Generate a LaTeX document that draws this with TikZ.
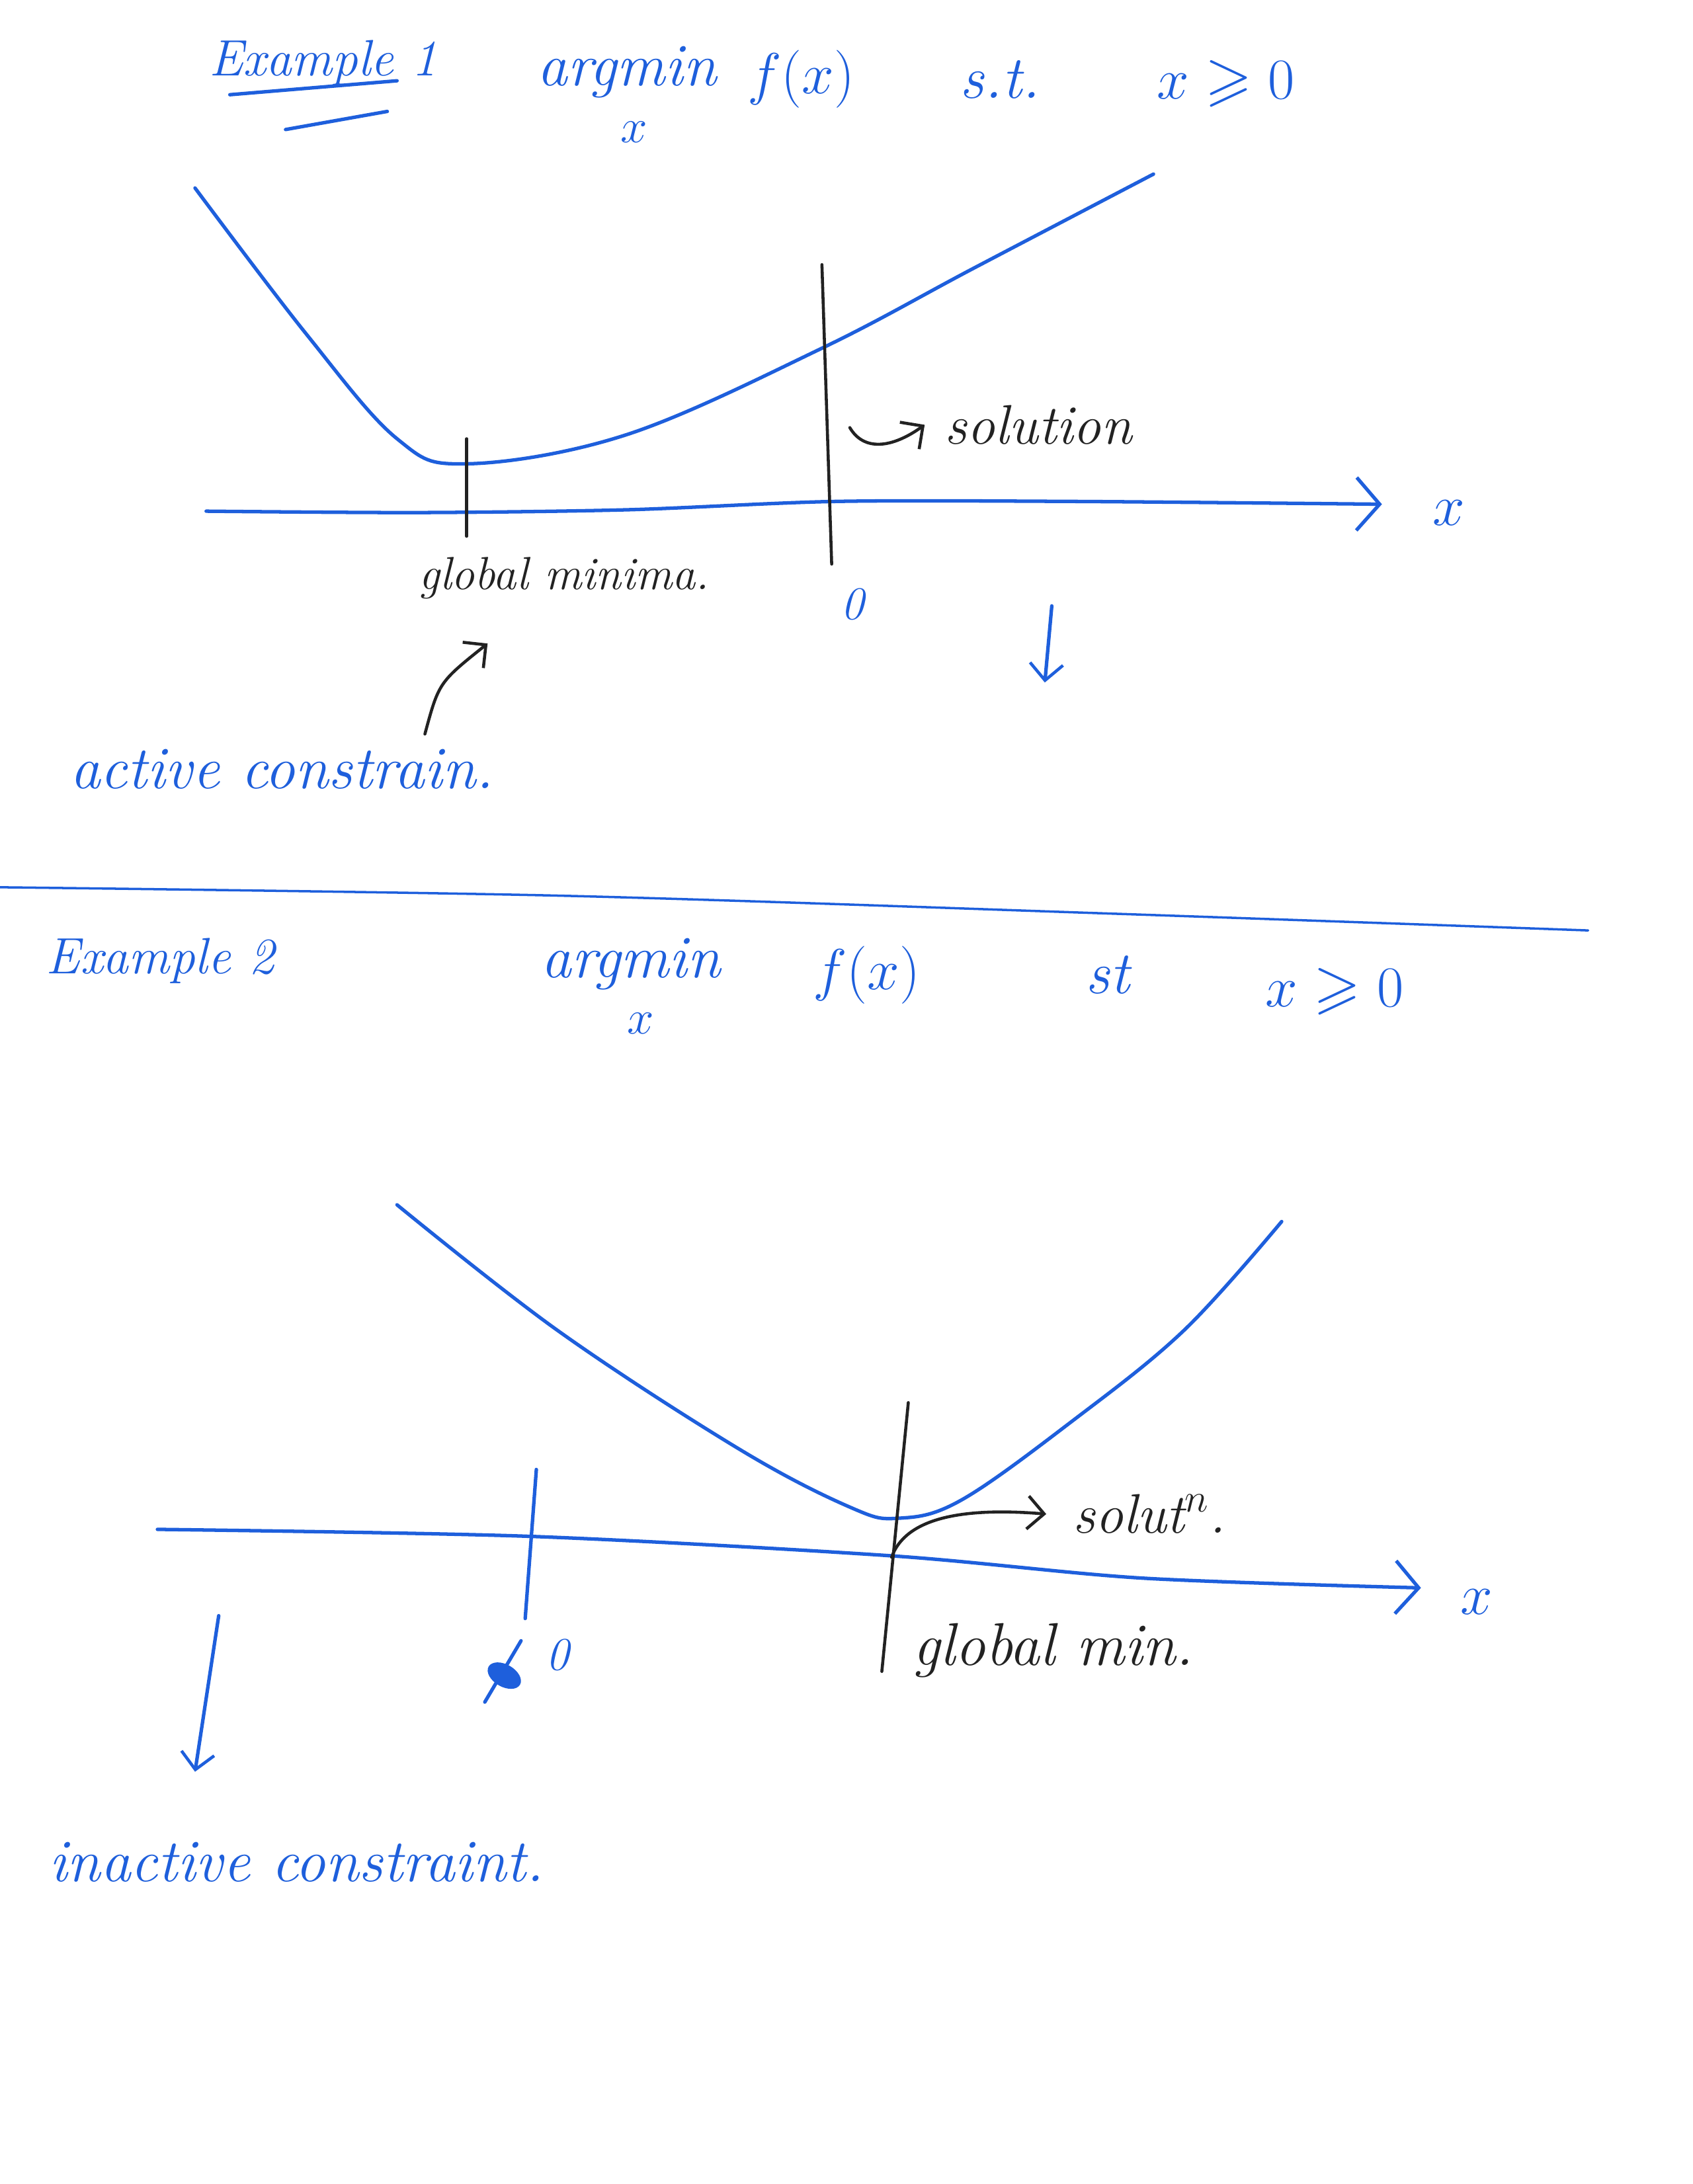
\documentclass[tikz,border=0pt]{standalone}
\usepackage{tikz}
\usetikzlibrary{arrows.meta}
\usepackage{amsmath, amssymb}
\usepackage{xcolor}

\definecolor{inkblue}{HTML}{1E5FDC}
\definecolor{pencil}{HTML}{222222}
\tikzset{
  ink/.style={draw=inkblue, line width=1.5pt, line cap=round, line join=round},
  pen/.style={draw=pencil, line width=1.3pt, line cap=round, line join=round},
  bluetxt/.style={text=inkblue, font=\fontsize{26}{30}\selectfont\itshape, inner sep=0pt},
  blacktxt/.style={text=pencil, font=\fontsize{24}{28}\selectfont\itshape, inner sep=0pt},
  subtxt/.style={text=inkblue, font=\fontsize{20}{24}\selectfont, inner sep=0pt},
  barb/.style={-{Straight Barb[length=3.5mm, width=8mm, line width=1.5pt]}},
  smallbarb/.style={-{Straight Barb[length=2.5mm, width=5mm, line width=1.3pt]}}
}

\begin{document}
\begin{tikzpicture}[x=0.02107cm, y=-0.02107cm]
        \useasboundingbox (0,0) rectangle (1215,1568);
        \fill[white] (0,0) rectangle (1215,1568);

        % example 1
        \node[bluetxt, font=\fontsize{22}{26}\selectfont\itshape] (ex1) at (232,45) {Example 1};
        \draw[ink] (165,68) -- (285,58);
        \draw[ink] (205,93) -- (278,80);
        \node[bluetxt] (argA) at (450,52) {argmin};
        \node[subtxt] (subA) at (455,95) {$x$};
        \node[bluetxt] (fA) at (575,57) {$f(x)$};
        \node[bluetxt] (stA) at (718,57) {s.t.};
        \node[bluetxt] (conA) at (880,60) {$x \geqslant 0$};

        \draw[ink] plot[smooth, tension=0.6] coordinates {(140,135) (220,240) (285,315) (335,333) (450,312) (590,250) (700,192) (828,125)};
        \draw[ink, barb] plot[smooth] coordinates {(148,367) (300,368) (450,366) (600,360) (770,360) (992,362)};
        \node[bluetxt] (xA) at (1040,368) {$x$};
        \draw[pen] (335,315) -- (335,385);
        \draw[pen] (590,190) -- (597,405);

        \node[blacktxt, anchor=west] (solA) at (678,305) {solution};
        \coordinate (solAfrom) at (610,307);
        \draw[pen, smallbarb] (solAfrom) .. controls (620,324) and (640,322) .. ([xshift=-0.3cm]solA.west);
        \node[blacktxt, font=\fontsize{20}{24}\selectfont\itshape] (gminA) at (405,415) {global minima.};
        \node[bluetxt, font=\fontsize{20}{24}\selectfont\itshape] (zeroA) at (612,434) {0};
        \coordinate (downA) at (755,435);
        \draw[ink, smallbarb] (downA) -- (750,490);

        \node[bluetxt, anchor=west] (actA) at (50,552) {active constrain.};
        \coordinate (actAfrom) at (305,527);
        \draw[pen, smallbarb] (actAfrom) .. controls (315,490) .. (350,462);

        % divider
        \draw[ink, line width=1pt] plot[smooth] coordinates {(0,637) (400,643) (800,656) (1140,668)};

        % example 2
        \node[bluetxt, font=\fontsize{22}{26}\selectfont\itshape] (ex2) at (115,690) {Example 2};
        \node[bluetxt] (argB) at (453,692) {argmin};
        \node[subtxt] (subB) at (460,735) {$x$};
        \node[bluetxt] (fB) at (622,700) {$f(x)$};
        \node[bluetxt] (stB) at (795,700) {st};
        \node[bluetxt] (conB) at (958,712) {$x \geqslant 0$};

        \draw[ink] plot[smooth, tension=0.6] coordinates {(285,865) (400,955) (530,1040) (610,1082) (645,1090) (690,1077) (770,1020) (850,955) (920,877)};
        \draw[ink, barb] plot[smooth] coordinates {(113,1098) (380,1103) (640,1117) (820,1133) (1020,1140)};
        \node[bluetxt] (xB) at (1060,1150) {$x$};
        \draw[pen] (652,1007) -- (633,1200);
        \draw[ink] (385,1055) -- (377,1162);

        \node[bluetxt, font=\fontsize{20}{24}\selectfont\itshape] (zeroB) at (400,1188) {0};
        \fill[inkblue] (362,1203) ellipse [x radius=13, y radius=8, rotate=-30];
        \draw[ink] (348,1222) -- (374,1178);

        \node[blacktxt, anchor=west] (solB) at (770,1087) {solut$^{n}$.};
        \coordinate (solBfrom) at (640,1118);
        \draw[pen, smallbarb] (solBfrom) .. controls (650,1090) and (690,1082) .. ([xshift=-0.4cm]solB.west);
        \node[blacktxt, font=\fontsize{26}{30}\selectfont\itshape, anchor=west] (gminB) at (655,1185) {global min.};

        \coordinate (downB) at (157,1160);
        \draw[ink, smallbarb] (downB) -- (140,1272);
        \node[bluetxt, anchor=west] (inactB) at (35,1337) {inactive constraint.};
    \end{tikzpicture}
\end{document}
